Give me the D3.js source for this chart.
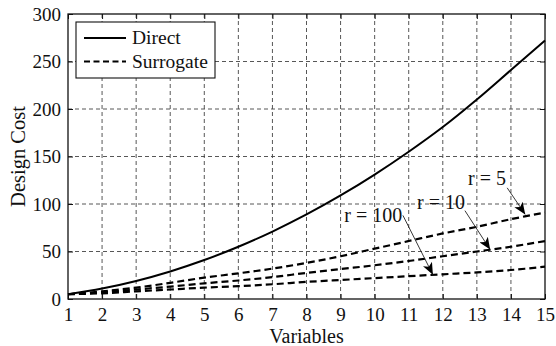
<!DOCTYPE html>
<html>
<head>
<meta charset="utf-8">
<script src="https://cdn.jsdelivr.net/npm/d3@7"></script>
<style>
  body { margin: 0; background: #fff; }
  svg text { font-family: "Liberation Serif", "Times New Roman", serif; fill: #111; }
</style>
</head>
<body>
<svg id="chart"></svg>
<script>
// values
const variables = [1, 2, 3, 4, 5, 6, 7, 8, 9, 10, 11, 12, 13, 14, 15];
const direct    = [5, 11, 19, 29, 41, 55, 71, 89, 109, 131, 155, 181, 210, 241, 272];
const surrR5    = [5, 8, 12, 17, 22.5, 27, 32, 38, 45, 53, 61, 69, 76, 84, 91];
const surrR10   = [5, 7, 10, 13, 16.5, 19.5, 23, 27.5, 31.5, 35.5, 40, 45, 50, 55, 61];
const surrR100  = [5, 6, 8, 10, 12, 13.5, 15.5, 18, 20, 22, 24, 26, 28, 30.5, 34];
const yTicks = [0, 50, 100, 150, 200, 250, 300];
const legendLabels = ["Direct", "Surrogate"];
// annotation: label, text anchor point, arrow tail, arrow tip (data units)
const annotations = [
  { label: "r = 5",   text: [13.3, 120],  tail: [13.89, 117], tip: [14.42, 89] },
  { label: "r = 10",  text: [11.95, 95],  tail: [12.65, 93],  tip: [13.39, 52] },
  { label: "r = 100", text: [9.96, 81],   tail: [10.83, 88],  tip: [11.71, 25.5] }
];

function drawChart() {
    const width = 556, height = 346;
    const margin = { top: 14, right: 11, bottom: 47, left: 68 };
    const innerW = width - margin.left - margin.right;
    const innerH = height - margin.top - margin.bottom;

    const svg = d3.select("#chart")
        .attr("width", width)
        .attr("height", height);

    const g = svg.append("g")
        .attr("transform", `translate(${margin.left},${margin.top})`);

    const x = d3.scaleLinear().domain([1, 15]).range([0, innerW]);
    const y = d3.scaleLinear().domain([0, 300]).range([innerH, 0]);

    // dashed grid
    g.append("g").selectAll("line")
        .data(variables.slice(1, -1))
        .join("line")
        .attr("x1", d => x(d)).attr("x2", d => x(d))
        .attr("y1", 0).attr("y2", innerH)
        .attr("stroke", "#444").attr("stroke-width", 0.9)
        .attr("stroke-dasharray", "4,3");

    g.append("g").selectAll("line")
        .data(yTicks.slice(1, -1))
        .join("line")
        .attr("x1", 0).attr("x2", innerW)
        .attr("y1", d => y(d)).attr("y2", d => y(d))
        .attr("stroke", "#444").attr("stroke-width", 0.9)
        .attr("stroke-dasharray", "4,3");

    // axes with inward ticks on all four sides
    const tickStyle = sel => {
        sel.select(".domain").remove();
        sel.selectAll(".tick line").attr("stroke", "#111").attr("stroke-width", 1);
        sel.selectAll(".tick text").style("font-size", "19px");
    };

    g.append("g")
        .attr("transform", `translate(0,${innerH})`)
        .call(d3.axisBottom(x).tickValues(variables).tickFormat(d3.format("d")).tickSizeInner(-5).tickPadding(9))
        .call(tickStyle);

    g.append("g")
        .call(d3.axisTop(x).tickValues(variables).tickFormat("").tickSizeInner(-5))
        .call(tickStyle);

    g.append("g")
        .call(d3.axisLeft(y).tickValues(yTicks).tickSizeInner(-5).tickPadding(7))
        .call(tickStyle);

    g.append("g")
        .attr("transform", `translate(${innerW},0)`)
        .call(d3.axisRight(y).tickValues(yTicks).tickFormat("").tickSizeInner(-5))
        .call(tickStyle);

    g.append("rect")
        .attr("width", innerW).attr("height", innerH)
        .attr("fill", "none").attr("stroke", "#111").attr("stroke-width", 1.3);

    // curves
    const line = d3.line()
        .x((d, i) => x(variables[i]))
        .y(d => y(d))
        .curve(d3.curveCatmullRom);

    g.append("path")
        .datum(direct)
        .attr("d", line)
        .attr("fill", "none").attr("stroke", "#000").attr("stroke-width", 2);

    [surrR5, surrR10, surrR100].forEach(s => {
        g.append("path")
            .datum(s)
            .attr("d", line)
            .attr("fill", "none").attr("stroke", "#000").attr("stroke-width", 2.2)
            .attr("stroke-dasharray", "7,4");
    });

    // annotations with arrows
    svg.append("defs").append("marker")
        .attr("id", "arrow")
        .attr("viewBox", "0 0 12 10")
        .attr("refX", 12).attr("refY", 5)
        .attr("markerWidth", 12).attr("markerHeight", 10)
        .attr("markerUnits", "userSpaceOnUse")
        .attr("orient", "auto")
        .append("path")
        .attr("d", "M0,0 L12,5 L0,10 L3,5 Z")
        .attr("fill", "#000");

    annotations.forEach(a => {
        g.append("line")
            .attr("x1", x(a.tail[0])).attr("y1", y(a.tail[1]))
            .attr("x2", x(a.tip[0])).attr("y2", y(a.tip[1]))
            .attr("stroke", "#222").attr("stroke-width", 0.9)
            .attr("marker-end", "url(#arrow)");

        g.append("text")
            .attr("x", x(a.text[0])).attr("y", y(a.text[1]))
            .attr("text-anchor", "middle")
            .style("font-size", "20px")
            .text(a.label);
    });

    // legend
    const legend = svg.append("g").attr("transform", "translate(76,22)");
    legend.append("rect")
        .attr("width", 139).attr("height", 56)
        .attr("fill", "#fff").attr("stroke", "#111").attr("stroke-width", 1.1);

    legendLabels.forEach((lab, i) => {
        const ly = 16 + i * 23.5;
        legend.append("line")
            .attr("x1", 8).attr("x2", 50)
            .attr("y1", ly).attr("y2", ly)
            .attr("stroke", "#000").attr("stroke-width", 2)
            .attr("stroke-dasharray", i === 0 ? null : "6,3.5");
        legend.append("text")
            .attr("x", 56).attr("y", ly + 6)
            .style("font-size", "19.5px")
            .text(lab);
    });

    // axis titles
    svg.append("text")
        .attr("x", margin.left + innerW / 2).attr("y", 343)
        .attr("text-anchor", "middle")
        .style("font-size", "20px")
        .text("Variables");

    svg.append("text")
        .attr("transform", `translate(25,${margin.top + innerH / 2}) rotate(-90)`)
        .attr("text-anchor", "middle")
        .style("font-size", "20.5px")
        .text("Design Cost");
}

drawChart();
</script>
</body>
</html>
